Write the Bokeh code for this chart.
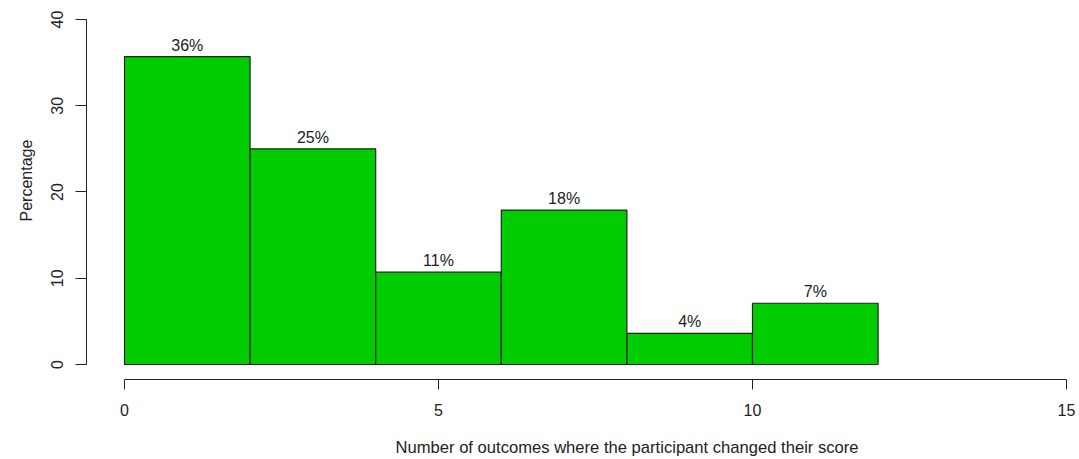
from bokeh.plotting import figure
from bokeh.models import FixedTicker, Range1d, Title
from bokeh.core.properties import value
from bokeh.embed import file_html
from bokeh.resources import INLINE

# Histogram bins (number of outcomes changed) and percentage of participants
bin_left = [0, 2, 4, 6, 8, 10]
bin_right = [2, 4, 6, 8, 10, 12]
percent = [35.7, 25.0, 10.7, 17.9, 3.6, 7.1]
bar_labels = [f"{round(v)}%" for v in percent]

x_ticks = [0, 5, 10, 15]
y_ticks = [0, 10, 20, 30, 40]

x_title = "Number of outcomes where the participant changed their score"
y_title = "Percentage"

FONT = "Liberation Sans"
INK = "#222222"

p = figure(
    frame_width=993, frame_height=374,
    min_border_left=86, min_border_right=0, min_border_top=5, min_border_bottom=80,
    x_range=Range1d(-0.605, 15.207), y_range=Range1d(-1.739, 41.62),
    output_backend="svg", toolbar_location=None,
)
p.outline_line_color = None
p.grid.visible = False
p.background_fill_color = "white"
p.border_fill_color = "white"

p.quad(left=bin_left, right=bin_right, bottom=0, top=percent,
       fill_color="#00CC00", line_color="#222222", line_width=1.2)

centers = [(a + b) / 2 for a, b in zip(bin_left, bin_right)]
p.text(x=centers, y=percent, text=bar_labels, text_align="center",
       text_baseline="bottom", y_offset=-3, text_font=value(FONT),
       text_font_size="16px", text_color=INK)

for ax, ticks, bnd in ((p.xaxis[0], x_ticks, (0, 15)), (p.yaxis[0], y_ticks, (0, 40))):
    ax.ticker = FixedTicker(ticks=ticks)
    ax.bounds = bnd
    ax.minor_tick_line_color = None
    ax.major_tick_in = 0
    ax.axis_line_color = INK
    ax.major_tick_line_color = INK
    ax.major_label_text_font = FONT
    ax.major_label_text_font_size = "16px"
    ax.major_label_text_color = INK

p.xaxis.major_tick_out = 10
p.xaxis.major_label_standoff = 14

p.yaxis.major_tick_out = 11
p.yaxis.major_label_orientation = "vertical"
p.yaxis.major_label_standoff = 12

# Axis titles, offset along their side like base-R titles
p.add_layout(Title(text=x_title, align="left", offset=309, standoff=34,
                   text_font=FONT, text_font_size="16.6px",
                   text_font_style="normal", text_color=INK), "below")
p.add_layout(Title(text=y_title, align="left", offset=158, standoff=28,
                   text_font=FONT, text_font_size="16px",
                   text_font_style="normal", text_color=INK), "left")

open("out.html", "w").write(file_html(p, INLINE))
